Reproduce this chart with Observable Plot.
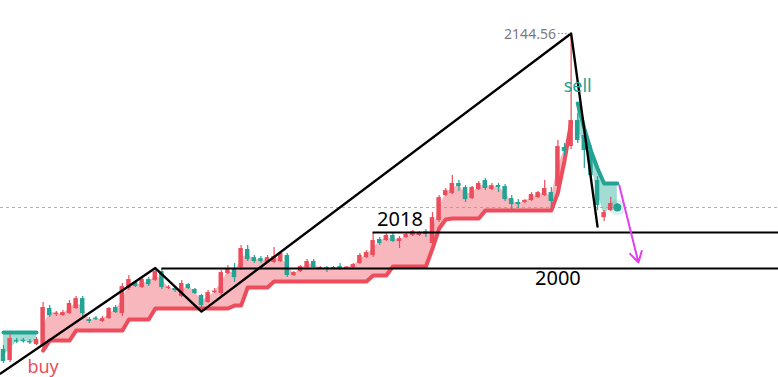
<!DOCTYPE html>
<html><head><meta charset="utf-8">
<script src="https://cdn.jsdelivr.net/npm/d3@7"></script>
<script src="https://cdn.jsdelivr.net/npm/@observablehq/plot@0.6"></script>
<style>html,body{margin:0;padding:0;background:#fff;overflow:hidden}#chart svg{display:block}</style>
</head><body><div id="chart"></div>
<script>
// ---- data (prices) ----
const opens = [1950.2,1943.4,1955.7,1955.9,1955.1,1953.2,1952.0,1975.4,1971.7,1971.1,
1972.3,1975.4,1981.5,1968.6,1969.5,1967.4,1969.2,1976.0,1972.3,1987.7,
1991.4,1988.3,1993.2,1992.6,1998.1,1987.7,1987.7,1982.8,1990.1,1987.1,
1983.4,1979.1,1985.2,1984.6,1996.9,1999.4,2000.6,2011.7,2006.7,2006.1,
2003.7,2003.7,2004.3,2008.0,1995.7,1998.1,2000.6,2004.3,2000.0,2000.6,
2000.6,2001.2,2000.0,2000.6,2003.1,2006.7,2008.0,2017.8,2017.2,2020.3,
2016.6,2019.0,2020.3,2020.3,2022.7,2015.4,2029.5,2044.9,2046.1,2052.3,
2049.8,2043.0,2048.6,2054.1,2048.6,2051.0,2050.4,2043.0,2040.6,2040.6,
2041.8,2043.6,2044.9,2046.7,2050.4,2074.4,2075.0,2091.0,2081.8,2072.5,
2054.1,2031.3,2035.6,2038.7];
const closes = [1942.8,1956.9,1954.8,1955.0,1954.2,1956.3,1976.0,1971.1,1972.6,1972.9,
1978.5,1981.5,1972.3,1967.4,1968.6,1969.2,1975.4,1972.9,1988.9,1993.2,
1988.9,1993.2,1990.1,1998.1,1988.3,1988.6,1986.4,1990.8,1987.7,1984.6,
1977.2,1985.2,1986.1,1997.5,2000.0,1994.4,2012.3,2005.5,2004.3,2004.3,
2006.7,2007.4,2009.2,1995.7,1997.5,2001.2,2004.3,2000.6,2000.6,1999.4,
1999.7,2000.0,2000.9,2002.4,2008.0,2009.8,2017.2,2015.4,2020.3,2016.6,
2018.4,2020.9,2022.7,2022.1,2020.9,2031.3,2043.6,2047.9,2052.3,2050.4,
2042.4,2049.8,2052.3,2049.2,2051.0,2049.8,2042.4,2039.3,2039.3,2041.8,
2045.5,2046.7,2049.2,2041.2,2075.0,2071.9,2091.0,2078.7,2072.5,2057.2,
2038.7,2034.4,2040.0,2037.5];
const highs = [1952.6,1959.4,1956.9,1957.0,1956.3,1957.5,1979.1,1977.2,1973.5,1974.1,
1980.3,1982.8,1982.8,1969.8,1970.5,1970.5,1976.0,1977.2,1990.8,1995.7,
1992.6,1994.4,1994.4,2000.6,2000.0,1989.5,1988.9,1992.6,1990.8,1987.7,
1984.0,1986.4,1987.7,1998.7,2001.8,2003.1,2014.1,2014.1,2008.0,2007.4,
2008.0,2012.9,2010.4,2009.2,1998.1,2001.8,2005.5,2005.5,2001.2,2001.2,
2001.2,2003.1,2001.2,2003.1,2009.2,2011.0,2022.1,2019.0,2021.5,2021.5,
2019.7,2021.5,2023.3,2022.7,2024.0,2034.4,2044.9,2049.2,2057.2,2054.1,
2051.0,2050.4,2053.5,2055.3,2052.3,2052.3,2051.6,2044.9,2042.4,2042.4,
2046.7,2047.3,2054.1,2049.8,2078.7,2076.9,2144.56,2095.3,2084.8,2075.6,
2056.6,2035.6,2043.6,2040.0];
const lows = [1941.6,1942.2,1953.9,1954.0,1953.2,1952.6,1949.5,1969.8,1970.5,1970.5,
1971.7,1974.8,1969.2,1966.2,1968.0,1966.8,1968.6,1972.3,1970.5,1986.4,
1988.3,1987.7,1988.9,1992.0,1987.1,1987.1,1985.2,1982.1,1987.1,1984.0,
1974.1,1978.5,1984.6,1982.1,1996.3,1991.4,1998.7,2004.3,2003.1,2003.1,
2003.1,2003.1,2003.7,1994.4,1995.1,1997.5,2000.0,1999.4,1999.4,1997.5,
1999.4,1998.7,1999.4,2000.0,2002.4,2006.1,2006.7,2014.1,2016.6,2016.0,
2012.3,2018.4,2019.7,2019.7,2019.0,2013.5,2028.3,2044.3,2045.5,2047.3,
2040.6,2042.4,2047.9,2047.9,2047.9,2046.7,2041.2,2036.3,2036.9,2040.0,
2041.2,2043.0,2044.3,2037.5,2049.2,2069.5,2073.2,2076.9,2061.5,2054.1,
2035.6,2028.9,2035.0,2036.3];
const supertrend = [1960.6,1960.6,1960.6,1960.6,1960.6,1960.6,1949.5,1955.7,1955.7,1955.7,
1955.7,1961.8,1961.8,1961.8,1961.8,1961.8,1961.8,1961.8,1961.8,1968.6,
1968.6,1968.6,1968.6,1975.4,1975.4,1975.4,1975.4,1975.4,1975.4,1975.4,
1975.4,1975.4,1975.4,1975.4,1975.4,1977.2,1977.2,1988.3,1988.3,1988.3,
1988.3,1992.0,1992.0,1992.0,1992.0,1992.0,1992.0,1992.0,1992.0,1992.0,
1992.0,1992.0,1992.0,1992.0,1992.0,1992.0,1995.7,1995.7,1995.7,2001.2,
2001.2,2001.2,2001.2,2001.2,2001.2,2012.3,2024.6,2030.1,2030.7,2030.7,
2030.7,2030.7,2030.7,2035.6,2035.6,2035.6,2035.6,2035.6,2035.6,2035.6,
2035.6,2035.6,2035.6,2035.6,2046.7,2066.4,2089.8,2101.5,2086.1,2072.5,
2061.5,2052.3,2052.3,2052.3];
const trendSegments = [
  {from: 0, to: 5, dir: "down"},
  {from: 6, to: 86, dir: "up"},
  {from: 87, to: 93, dir: "down"}
];
const zigzag = [
  {i: -0.45, price: 1935.4},
  {i: 23, price: 2000.3},
  {i: 30, price: 1973.5},
  {i: 86, price: 2144.56},
  {i: 90, price: 2025.8}
];
const levelValues = [2022.1, 2000.0];
const levelLabels = ["2018", "2000"];
const levelStarts = [56, 24];
const signals = [{i: 6, price: 1936.0, text: "buy"}, {i: 87, price: 2111.9, text: "sell"}];
const peakLabel = "2144.56";
const projection = {i1: 93.3, p1: 2051.0, i2: 96.2, p2: 2003.7};

// ---- colours ----
const RED = "#eb4d5c", TEAL = "#22a393", PINK = "#f8b7bc", TEALFILL = "#a3dcd2";

const candles = opens.map((o, i) => ({
  i, open: o, close: closes[i], high: highs[i], low: lows[i],
  st: supertrend[i], mid: (o + closes[i]) / 2, up: closes[i] >= o
}));
const segData = trendSegments.map(s => ({dir: s.dir, data: candles.filter(d => d.i >= s.from && d.i <= s.to)}));
const last = candles[candles.length - 1];
const xMax = 117.42, xMin = -0.4545;
const levels = levelValues.map((v, k) => ({level: v, label: levelLabels[k], start: levelStarts[k]}));

const marks = [];
// fills
for (const s of segData) {
  marks.push(Plot.areaY(s.data, {x: "i", y1: "st", y2: "mid", fill: s.dir === "up" ? PINK : TEALFILL, curve: "linear"}));
}
// current price line
marks.push(Plot.ruleY([last.close], {x1: xMin, x2: xMax, stroke: "#4fb9a6", strokeOpacity: 0.75, strokeWidth: 1, strokeDasharray: "3,3"}));
// supertrend lines
for (const s of segData) {
  marks.push(Plot.line(s.data, {x: "i", y: "st", stroke: s.dir === "up" ? RED : TEAL, strokeWidth: 4, curve: "linear", strokeLinejoin: "round"}));
}
// wicks
marks.push(Plot.ruleX(candles, {x: "i", y1: "low", y2: "high", stroke: d => d.up ? RED : TEAL, strokeWidth: 1.2}));
// bodies
marks.push(Plot.rect(candles, {x1: d => d.i - 0.34, x2: d => d.i + 0.34, y1: "open", y2: "close", fill: d => d.up ? RED : TEAL}));
// last bar glow
marks.push(Plot.dot([last], {x: "i", y: "close", r: 8, fill: TEAL, fillOpacity: 0.15}));
marks.push(Plot.dot([last], {x: "i", y: "close", r: 4, fill: TEAL}));
// zigzag
marks.push(Plot.line(zigzag, {x: "i", y: "price", stroke: "black", strokeWidth: 2.4}));
// levels
marks.push(Plot.ruleY(levels, {y: "level", x1: "start", x2: xMax, stroke: "black", strokeWidth: 2}));
marks.push(Plot.text([levels[0]], {x: "start", y: "level", text: "label", textAnchor: "start", lineAnchor: "bottom", dx: 4, dy: -7, fontSize: 20, fill: "black"}));
marks.push(Plot.text([levels[1]], {x: d => d.start + 60, y: "level", text: "label", textAnchor: "middle", lineAnchor: "top", dy: 2, fontSize: 20, fill: "black"}));
// signals
marks.push(Plot.text([signals[0]], {x: "i", y: "price", text: "text", lineAnchor: "bottom", fontSize: 18, fill: RED}));
marks.push(Plot.text([signals[1]], {x: "i", y: "price", text: "text", lineAnchor: "middle", fontSize: 18, fill: TEAL}));
// peak label
marks.push(Plot.ruleY([2144.56], {x1: 84.1, x2: 86, stroke: "#787b86", strokeDasharray: "1.5,2"}));
marks.push(Plot.text([{i: 84, price: 2144.56, t: peakLabel}], {x: "i", y: "price", text: "t", textAnchor: "end", dx: -2, dy: 1, fontSize: 14, fill: "#787b86"}));
// projection arrow
marks.push(Plot.arrow([projection], {x1: "i1", y1: "p1", x2: "i2", y2: "p2", stroke: "#e43cf0", strokeWidth: 2, headLength: 9, bend: 0}));

const chart = Plot.plot({
  width: 778, height: 377, margin: 0,
  x: {domain: [xMin, xMax], axis: null},
  y: {domain: [1932.97, 2164.82], axis: null},
  style: {background: "white", fontFamily: "'Noto Sans', 'DejaVu Sans', sans-serif", overflow: "visible"},
  marks
});
document.getElementById("chart").appendChild(chart);
</script>
</body></html>
